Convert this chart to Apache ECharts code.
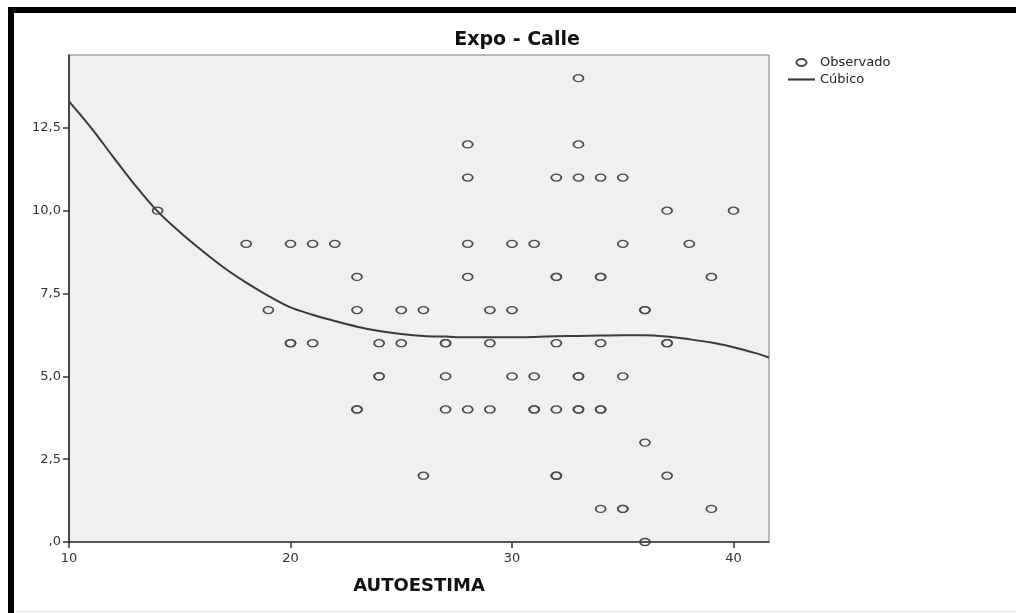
<!DOCTYPE html>
<html><head><meta charset="utf-8">
<script src="https://cdn.jsdelivr.net/npm/echarts@6/dist/echarts.min.js"></script>
<style>html,body{margin:0;padding:0;background:#fff}#c{width:1016px;height:613px}</style>
</head><body><div id="c"></div>
<script>
// Observed points (AUTOESTIMA, Expo - Calle); repeated pairs = overlapping observations
const obsX = [33,
  28,33,
  28,32,33,34,35,
  14,37,40,
  18,20,21,22,28,30,31,35,38,
  23,28,32,32,34,34,39,
  19,23,25,26,29,30,36,36,
  20,20,21,24,25,27,27,29,32,34,37,37,
  24,24,27,30,31,33,33,35,
  23,23,27,28,29,31,31,32,33,33,34,34,
  36,
  26,32,32,37,
  34,35,35,39,
  36];
const obsY = [14,
  12,12,
  11,11,11,11,11,
  10,10,10,
  9,9,9,9,9,9,9,9,9,
  8,8,8,8,8,8,8,
  7,7,7,7,7,7,7,7,
  6,6,6,6,6,6,6,6,6,6,6,6,
  5,5,5,5,5,5,5,5,
  4,4,4,4,4,4,4,4,4,4,4,4,
  3,
  2,2,2,2,
  1,1,1,1,
  0];
// Cubic fit curve
const fitX = [10, 11, 12, 13, 14, 15, 16, 17, 18, 19, 20, 21, 22, 23, 24, 25, 26, 27, 28, 29, 30, 31, 32, 33, 34, 35, 36, 37, 38, 39, 40, 41, 41.6];
const fitY = [13.30, 12.50, 11.62, 10.76, 9.98, 9.36, 8.80, 8.28, 7.83, 7.43, 7.08, 6.86, 6.67, 6.50, 6.37, 6.28, 6.22, 6.20, 6.18, 6.18, 6.18, 6.19, 6.21, 6.22, 6.23, 6.24, 6.24, 6.20, 6.12, 6.02, 5.88, 5.70, 5.57];
const xTicks = [10, 20, 30, 40];
const yTicks = [0, 2.5, 5, 7.5, 10, 12.5];
const yTickLabels = [',0', '2,5', '5,0', '7,5', '10,0', '12,5'];

const FONT = 'DejaVu Sans';
const ELLIPSE = 'path://M0,35 C0,16 22,0 50,0 C78,0 100,16 100,35 C100,54 78,70 50,70 C22,70 0,54 0,35 Z';
const LINE_ICON = 'path://M0,0 L100,0 L100,8 L0,8 Z';

const chart = echarts.init(document.getElementById('c'));
chart.setOption({
  animation: false,
  backgroundColor: '#ffffff',
  grid: {left: 69, right: 247, top: 55, bottom: 71, show: true,
    backgroundColor: '#f0f0f0', borderColor: '#7a7a7a', borderWidth: 1},
  legend: {
    orient: 'vertical', left: 788, top: 56, itemWidth: 27, itemHeight: 7, itemGap: 4,
    padding: 0,
    textStyle: {fontFamily: FONT, fontSize: 13, color: '#222'},
    data: [{name: 'Observado', icon: ELLIPSE}, {name: 'Cúbico', icon: LINE_ICON}]
  },
  xAxis: {
    type: 'value', min: 10, max: 41.6, interval: 10,
    name: 'AUTOESTIMA', nameLocation: 'middle', nameGap: 35,
    nameTextStyle: {fontFamily: FONT, fontSize: 18, fontWeight: 'bold', color: '#111'},
    axisLine: {show: true, onZero: false, lineStyle: {color: '#333', width: 1.5}},
    axisTick: {show: true, length: 6, customValues: xTicks, lineStyle: {color: '#333', width: 1.5}},
    axisLabel: {customValues: xTicks, margin: 10, fontFamily: FONT, fontSize: 13, color: '#333'},
    splitLine: {show: false}
  },
  yAxis: {
    type: 'value', min: 0, max: 14.7, interval: 2.5,
    axisLine: {show: true, onZero: false, lineStyle: {color: '#222', width: 1.5}},
    axisTick: {show: true, length: 6, customValues: yTicks, lineStyle: {color: '#333', width: 1.5}},
    axisLabel: {customValues: yTicks, margin: 8, fontFamily: FONT, fontSize: 13, color: '#333',
      formatter: function (v) {
        const i = yTicks.findIndex(t => Math.abs(t - v) < 1e-6);
        return i >= 0 ? yTickLabels[i] : '';
      }},
    splitLine: {show: false}
  },
  series: [
    {
      name: 'Observado', type: 'scatter',
      symbol: ELLIPSE, symbolSize: [10, 7],
      itemStyle: {color: 'rgba(0,0,0,0)', borderColor: '#4a4a4a', borderWidth: 1.5, opacity: 1},
      emphasis: {disabled: true},
      data: obsX.map((x, i) => [x, obsY[i]]),
      z: 2
    },
    {
      name: 'Cúbico', type: 'line', smooth: 0.35, symbol: 'none', showSymbol: false,
      lineStyle: {color: '#3a3a3a', width: 2},
      itemStyle: {color: '#3a3a3a'},
      emphasis: {disabled: true},
      data: fitX.map((x, i) => [x, fitY[i]]),
      z: 3
    }
  ],
  graphic: [
    {type: 'rect', shape: {x: 8, y: 7, width: 1008, height: 6}, style: {fill: '#000'}, silent: true},
    {type: 'rect', shape: {x: 8, y: 7, width: 6, height: 606}, style: {fill: '#000'}, silent: true},
    {type: 'rect', shape: {x: 14, y: 611, width: 1002, height: 1}, style: {fill: '#e6e6e6'}, silent: true},
    {type: 'text', x: 517, y: 40, silent: true,
      style: {text: 'Expo - Calle', align: 'center', verticalAlign: 'middle',
        font: 'bold 19px "DejaVu Sans"', fill: '#111'}}
  ]
});
</script>
</body></html>
